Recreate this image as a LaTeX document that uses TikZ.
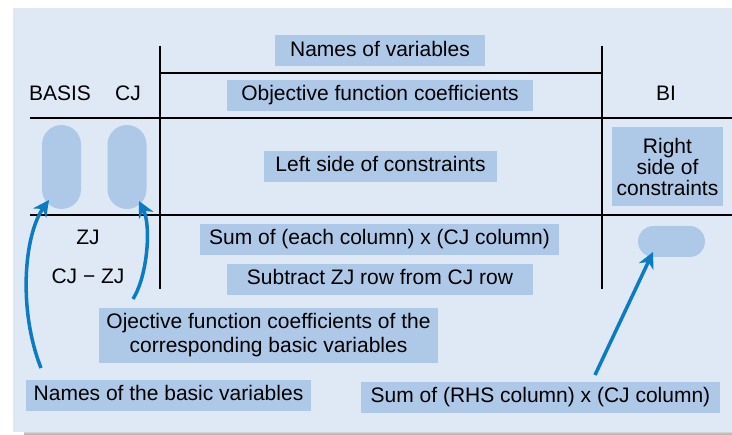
\documentclass[tikz,border=0pt]{standalone}
\usepackage{fontspec}
\setmainfont{Liberation Sans}
\usetikzlibrary{arrows.meta}
\definecolor{panel}{HTML}{DFE9F6}
\definecolor{boxc}{HTML}{AEC8E8}
\definecolor{arr}{HTML}{0B7CC4}
\begin{document}
\begin{tikzpicture}[x=1pt,y=-1pt,
  lbl/.style={font=\fontsize{21}{21}\selectfont, inner sep=0pt, text height=15pt, text depth=4pt},
  hbox/.style={lbl, fill=boxc, minimum height=31pt},
  mbox/.style={fill=boxc, inner sep=0pt, align=center},
  pillnode/.style={fill=boxc, inner sep=0pt, rounded corners=#1},
  rule/.style={line width=2pt, black},
  pointer/.style={arr, line width=3.5pt, -{Stealth[length=16pt,width=16pt,inset=5pt]}}
]
\useasboundingbox (0,0) rectangle (732,435);
% panel and shadow
\shade[top color=gray!35, bottom color=gray!70] (24,432) rectangle (732,435);
\fill[panel] (13,8) rectangle (732,432);

% rules
\draw[rule] (160,46) -- (160,289);
\draw[rule] (602,46) -- (602,289);
\draw[rule] (160,73) -- (602,73);
\draw[rule] (30,118) -- (732,118);
\draw[rule] (30,215) -- (732,215);

% header labels
\node[lbl] (basis) at (60,95) {BASIS};
\node[lbl] (cj) at (128,95) {CJ};
\node[lbl] (bi) at (666,95) {BI};
\node[lbl] (zj) at (88,239) {ZJ};
\node[lbl] (cjzj) at (88,278) {CJ − ZJ};

% boxes
\node[hbox, minimum width=210pt] (nv) at (380,51) {Names of variables};
\node[hbox, minimum width=306pt] (ofc) at (380,95.5) {Objective function coefficients};
\node[hbox, minimum width=233pt] (ls) at (380.5,166.5) {Left side of constraints};
\node[mbox, font=\fontsize{21}{21}\selectfont, minimum width=111pt, minimum height=79pt] (rs) at (667.5,166.5) {Right\\side of\\constraints};
\node[hbox, minimum width=359pt] (sum) at (379.5,239.5) {Sum of (each column) x (CJ column)};
\node[hbox, minimum width=306pt] (sub) at (380,279.5) {Subtract ZJ row from CJ row};
\node[mbox, font=\fontsize{21}{24}\selectfont, minimum width=339pt, minimum height=55pt] (ojc) at (268.5,335.5) {Ojective function coefficients of the\\corresponding basic variables};
\node[hbox, minimum width=285pt] (nb) at (168.5,395.5) {Names of the basic variables};
\node[hbox, minimum width=359pt] (srhs) at (540.5,397.5) {Sum of (RHS column) x (CJ column)};

% pills
\node[pillnode=19.5pt, minimum width=39pt, minimum height=84pt] (pb) at (61.5,167) {};
\node[pillnode=19.5pt, minimum width=39pt, minimum height=84pt] (pc) at (127,167) {};
\node[pillnode=15.5pt, minimum width=67pt, minimum height=31pt] (pbi) at (671.5,241.5) {};

% arrows
\coordinate (a1s) at (41,368);
\coordinate (a1e) at (49,200);
\coordinate (a2s) at (133,299);
\coordinate (a2e) at (139,201);
\coordinate (a3s) at (595,375);
\coordinate (a3e) at (653,252);
\draw[pointer] (a1s) .. controls (18,310) and (24,235) .. (a1e);
\draw[pointer] (a2s) .. controls (148,275) and (151,225) .. (a2e);
\draw[pointer] (a3s) -- (a3e);
\end{tikzpicture}
\end{document}
